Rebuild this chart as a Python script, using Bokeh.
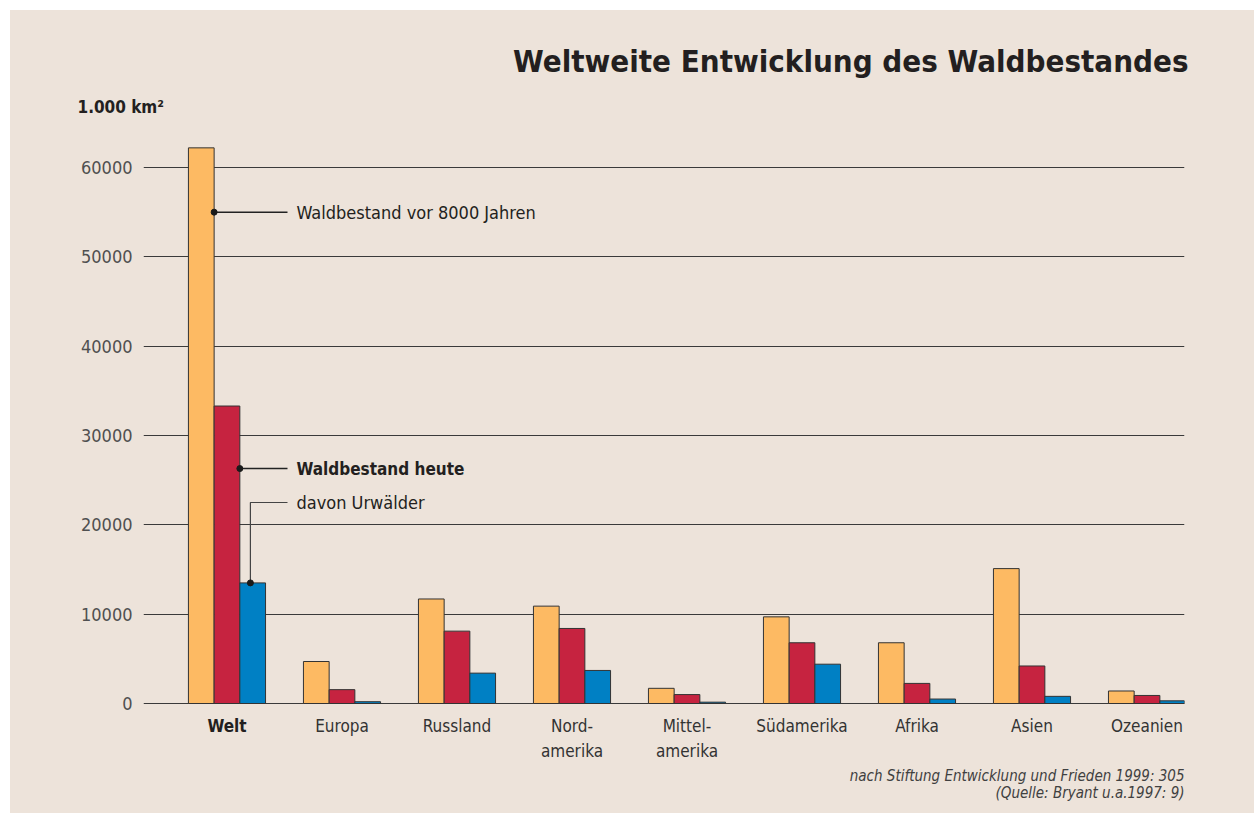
import numpy as np
from bokeh.plotting import figure
from bokeh.models import FixedTicker, Range1d, Spacer, Title
from bokeh.layouts import column, row
from bokeh.embed import file_html
from bokeh.resources import INLINE

# ---------------- data ----------------
categories = ["Welt", "Europa", "Russland", "Nord-\namerika", "Mittel-\namerika",
              "Südamerika", "Afrika", "Asien", "Ozeanien"]
vor_8000 = [62200, 4700, 11700, 10900, 1700, 9700, 6800, 15100, 1400]
heute = [33300, 1550, 8100, 8400, 1000, 6800, 2250, 4200, 900]
urwald = [13500, 200, 3400, 3700, 150, 4400, 500, 800, 300]
y_ticks = [0, 10000, 20000, 30000, 40000, 50000, 60000]
y_tick_labels = ["0", "10000", "20000", "30000", "40000", "50000", "60000"]

series_names = ["Waldbestand vor 8000 Jahren", "Waldbestand heute", "davon Urwälder"]
title_text = "Weltweite Entwicklung des Waldbestandes"
unit_text = "1.000 km²"
source_lines = ["nach Stiftung Entwicklung und Frieden 1999: 305", "(Quelle: Bryant u.a.1997: 9)"]

# ---------------- style ----------------
BG = "#EDE3DA"
ORANGE = "#FDBA63"
RED = "#C62340"
BLUE = "#0080C4"
EDGE = "#333333"
TXT = "#231f20"
GREY = "#505050"
FONT = "'Liberation Sans Narrow', 'DejaVu Sans Condensed', 'Roboto', sans-serif"
FV = {"value": FONT}

OX, OY = 10, 10            # page offset of the panel
W, H = 1244, 803
BL, BR, BT = 133, 70, 110  # frame: page x 143..1184, page y 120..813
X0, X1 = -0.726, 8.326
UPP = 111.94               # value units per pixel
Y1 = (703 - 120) * UPP
Y0 = (703 - 813) * UPP

# helpers: reference-page pixels -> data (for label / callout placement)
def dx(px):
    return (px - 226.5) / 115.0
def dy(py):
    return (703 - py) * UPP

p = figure(width=W, height=H, output_backend="svg", toolbar_location=None,
           x_range=Range1d(X0, X1), y_range=Range1d(Y0, Y1),
           min_border_left=BL, min_border_right=BR, min_border_top=BT, min_border_bottom=0)
p.styles = {"background-color": BG}
p.border_fill_color = BG
p.border_fill_alpha = 0
p.background_fill_color = BG
p.background_fill_alpha = 0
p.outline_line_color = None

# titles (stacked outward from the frame: unit first, then main title)
p.add_layout(Title(text=unit_text, align="left", offset=-66, standoff=7,
                   text_font=FONT, text_font_size="17px", text_font_style="bold",
                   text_color=TXT), "above")
p.add_layout(Title(text=title_text, align="right", offset=-4, standoff=25,
                   text_font=FONT, text_font_size="31px", text_font_style="bold",
                   text_color=TXT), "above")

bw = 0.2235
x = np.arange(len(categories))
for vals, col, off in [(vor_8000, ORANGE, -bw), (heute, RED, 0.0), (urwald, BLUE, bw)]:
    p.vbar(x=x + off, top=vals, bottom=0, width=bw, fill_color=col,
           line_color=EDGE, line_width=1)

p.xgrid.visible = False
p.xaxis.visible = False
p.ygrid.ticker = FixedTicker(ticks=y_ticks)
p.ygrid.grid_line_color = "#3a3a3a"
p.ygrid.grid_line_width = 1

p.yaxis.ticker = FixedTicker(ticks=y_ticks)
p.yaxis.major_label_overrides = {t: l for t, l in zip(y_ticks, y_tick_labels)}
p.yaxis.axis_line_color = None
p.yaxis.major_tick_line_color = None
p.yaxis.major_tick_out = 0
p.yaxis.major_tick_in = 0
p.yaxis.minor_tick_line_color = None
p.yaxis.major_label_standoff = 11
p.yaxis.major_label_text_font = FONT
p.yaxis.major_label_text_font_size = "18px"
p.yaxis.major_label_text_color = GREY

# category labels (below the baseline)
styles = ["bold"] + ["normal"] * (len(categories) - 1)
colors = [TXT] + ["#333333"] * (len(categories) - 1)
p.text(x=x, y=[dy(715)] * len(categories), text=categories, text_font=FV,
       text_font_style=styles, text_font_size="17px", text_color=colors,
       text_align="center", text_baseline="top", text_line_height=1.25)

# source
p.text(x=[dx(1184)] * 2, y=[dy(775), dy(792)], text=source_lines, text_font=FV,
       text_font_style="italic", text_font_size="15px", text_color="#404040",
       text_align="right", text_baseline="middle")

# callouts for the series
line_end = dx(287)
text_x = dx(296)
y1 = 55000
y2 = 26300
y3 = dy(502)
p.line([-bw / 2, line_end], [y1, y1], line_color="#222222", line_width=1.5)
p.line([bw / 2, line_end], [y2, y2], line_color="#222222", line_width=1.5)
bx = bw - 0.02
p.line([bx, bx, line_end], [urwald[0], y3, y3], line_color="#444444", line_width=1.2)
p.scatter([-bw / 2, bw / 2, bx], [y1, y2, urwald[0]], size=6, color="#1a1a1a")

p.text(x=[text_x], y=[y1], text=[series_names[0]], text_font=FV,
       text_font_size="18px", text_color=TXT, text_baseline="middle")
p.text(x=[text_x], y=[y2], text=[series_names[1]], text_font=FV,
       text_font_style="bold", text_font_size="17px", text_color=TXT, text_baseline="middle")
p.text(x=[text_x], y=[y3], text=[series_names[2]], text_font=FV,
       text_font_size="18px", text_color=TXT, text_baseline="middle")

layout = column(Spacer(height=OY, width=W + OX),
                row(Spacer(width=OX, height=H), p, spacing=0), spacing=0)
open("out.html", "w").write(file_html(layout, INLINE))
